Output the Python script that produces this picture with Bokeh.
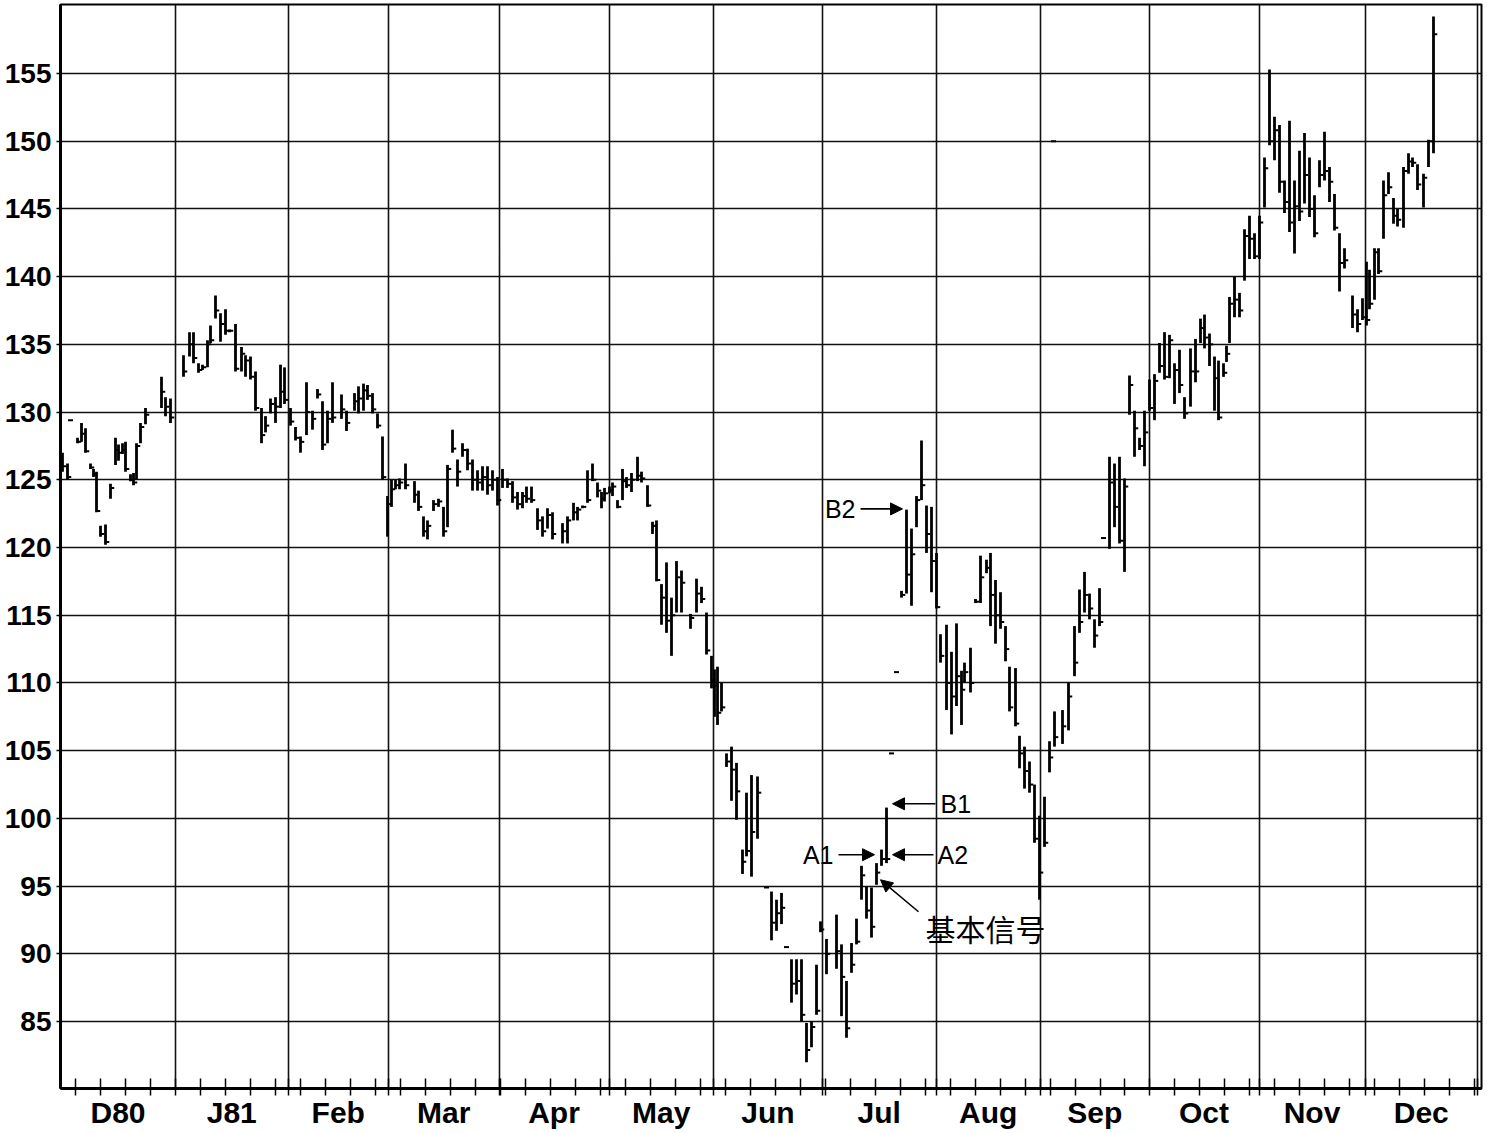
from bokeh.plotting import figure
from bokeh.models import Range1d, FixedTicker, Arrow, NormalHead, Label, ColumnDataSource
from bokeh.embed import file_html
from bokeh.resources import INLINE
import numpy as np

# ---------------- data (x = trading-day index, y = price) ----------------
month_labels = ["D80", "J81", "Feb", "Mar", "Apr", "May", "Jun", "Jul", "Aug", "Sep", "Oct", "Nov", "Dec"]
month_bounds = [23.0, 45.5, 65.6, 87.7, 109.7, 130.6, 152.4, 175.1, 196.0, 217.7, 239.7, 260.9, 283.4]
price_ticks = [85, 90, 95, 100, 105, 110, 115, 120, 125, 130, 135, 140, 145, 150, 155]

day = [
    0.4, 1.4, 3.4, 4.2, 5.0, 6.0, 6.6, 7.2, 8.0, 9.0, 10.0, 11.0, 11.6, 12.4, 13.0, 14.0, 14.6, 15.2, 16.0, 17.0, 20.2, 21.0, 22.0,
    24.6, 25.8, 26.6, 27.6, 28.4, 29.4, 30.0, 31.0, 32.0, 33.0, 33.8, 35.0, 36.2, 37.0, 38.0, 39.0, 40.2, 41.0, 42.0, 43.0, 44.0, 44.8,
    46.0, 47.0, 48.0, 49.2, 50.4, 51.4, 52.4, 53.4, 54.4, 56.2, 57.2, 58.8, 59.6, 60.6, 61.4, 62.4, 63.4, 64.4,
    65.4, 66.2, 67.0, 67.8, 69.0, 70.8, 71.6, 72.6, 73.4, 74.6, 75.6, 76.6, 77.4, 78.4, 79.4, 80.4, 81.4, 82.4, 83.4, 84.4, 85.4, 86.4, 87.4,
    88.4, 89.4, 90.4, 91.4, 92.4, 93.2, 94.2, 95.4, 96.4, 97.4, 98.4, 100.4, 101.4, 102.6, 103.4, 104.4, 105.4, 106.4, 107.4, 108.2, 108.8,
    109.8, 110.4, 111.4, 112.4, 113.2, 114.2, 115.4, 116.2, 117.4, 118.4, 119.2, 120.2, 121.2, 122.2, 123.2, 124.2, 126.0, 127.2, 128.2, 129.2,
    130.2, 130.8, 131.4, 132.2, 133.2, 134.2, 135.2, 136.4, 137.2, 138.2, 139.4, 142.2, 143.2, 144.2, 146.2, 147.2, 148.2, 149.2, 150.2, 151.2,
    152.0, 153.2, 155.2, 156.2, 157.2, 158.2, 159.2, 160.2, 161.2, 162.2, 163.2, 164.2, 165.2, 168.2, 169.2, 170.2, 171.2, 172.2, 173.2, 174.2, 175.2,
    176.0, 177.2, 178.2, 179.2, 180.2, 180.8, 182.0, 183.0, 184.0, 185.2, 186.0, 187.0, 188.0, 189.0, 189.8, 191.0, 191.8, 192.8, 193.8, 194.8, 195.8,
    196.8, 197.8, 198.8, 200.4, 201.6, 202.8, 203.8, 204.8, 205.8, 206.8, 207.8, 209.8, 210.8, 211.8, 212.8, 213.8, 214.8, 215.8, 216.8,
    217.8, 218.8, 219.8, 220.8, 221.8, 222.8, 223.8, 224.8, 226.0, 227.0, 228.0, 228.8, 229.8, 230.8, 231.6, 232.6, 233.2, 233.8, 234.8, 235.8, 236.8, 237.8, 238.8,
    239.8, 240.8, 241.8, 242.8, 243.8, 244.8, 245.8, 246.8, 247.8, 248.8, 249.8, 250.8, 251.8, 252.8, 253.8, 254.8, 255.8, 256.8, 258.4, 259.4, 260.4,
    261.2, 261.8, 262.8, 263.6, 264.6, 265.6, 266.6, 267.4, 268.6, 269.6, 270.4, 271.4, 272.6, 273.6, 274.6,
]
high = [
    127.0, 126.2, 128.1, 129.2, 128.8, 126.2, 125.8, 125.6, 121.6, 121.7, 124.7, 128.1, 127.6, 127.7, 127.8, 125.4, 125.5, 127.7, 129.2, 130.3, 132.6, 131.1, 131.0,
    134.2, 135.9, 135.9, 133.6, 133.5, 135.3, 136.4, 138.6, 137.3, 137.6, 136.1, 136.5, 134.8, 134.2, 134.1, 133.0, 130.3, 129.7, 131.0, 131.1, 133.5, 133.3,
    130.3, 128.9, 128.2, 132.2, 130.1, 131.7, 130.8, 130.1, 132.2, 131.3, 130.1, 131.4, 131.9, 132.1, 132.0, 131.4, 129.9, 128.2,
    123.8, 125.0, 125.0, 125.1, 126.2, 124.9, 124.2, 122.3, 122.0, 123.5, 123.6, 123.0, 126.1, 128.7, 126.5, 127.7, 127.3, 126.5, 125.7, 126.0, 126.0, 125.7, 125.2,
    125.8, 125.1, 124.9, 124.1, 124.1, 124.5, 124.5, 122.9, 122.3, 122.9, 122.6, 121.8, 122.3, 123.3, 123.0, 123.1, 125.7, 126.2, 124.8, 124.1, 124.4,
    124.5, 124.8, 123.5, 125.8, 125.2, 125.5, 126.7, 125.6, 124.6, 121.9, 122.0, 117.3, 118.9, 116.3, 119.0, 118.3, 115.1, 117.7, 117.1, 115.2,
    112.0, 111.0, 111.2, 110.0, 104.8, 105.3, 104.1, 97.7, 101.9, 103.2, 103.1, 94.6, 94.0, 94.5, 89.6, 89.6, 89.6, 84.9, 85.0, 89.2,
    92.4, 91.1, 92.9, 90.7, 88.0, 90.8, 92.6, 96.5, 95.0, 94.9, 96.7, 97.7, 100.8, 116.8, 122.8, 121.4, 123.8, 127.9, 123.1, 123.0, 119.6,
    113.6, 114.3, 112.3, 114.4, 110.9, 111.5, 112.6, 116.2, 119.4, 119.1, 119.6, 117.6, 116.7, 114.2, 111.2, 111.1, 106.1, 105.3, 104.2, 102.5, 100.2,
    101.6, 105.7, 107.9, 108.0, 110.0, 114.2, 116.9, 118.2, 116.6, 114.7, 117.0, 126.7, 126.2, 126.7, 125.1, 132.7, 130.1, 128.1, 130.1,
    132.4, 132.8, 135.1, 135.9, 135.7, 133.6, 134.6, 131.1, 134.7, 135.4, 136.9, 137.2, 135.8, 134.1, 133.8, 133.6, 134.9, 138.5, 140.0, 138.8, 143.5, 144.5, 143.2,
    144.5, 148.8, 155.3, 151.8, 151.2, 147.1, 151.5, 147.1, 149.3, 150.6, 148.8, 146.0, 148.6, 150.7, 148.1, 146.1, 143.2, 142.1, 138.6, 137.6, 138.4,
    141.1, 140.5, 142.1, 142.1, 147.1, 147.7, 145.8, 145.0, 148.1, 149.1, 148.8, 148.3, 147.6, 150.1, 159.2,
]
low = [
    125.6, 125.0, 127.7, 127.8, 127.0, 125.8, 125.2, 122.6, 120.8, 120.2, 123.6, 126.1, 126.4, 126.9, 125.6, 124.9, 124.6, 125.0, 127.7, 129.1, 130.3, 129.7, 129.2,
    132.6, 134.1, 133.6, 132.9, 133.1, 133.3, 135.1, 136.9, 135.2, 135.7, 135.9, 133.0, 133.0, 132.6, 132.4, 130.1, 127.7, 128.5, 129.9, 129.2, 130.3, 130.6,
    129.0, 127.9, 127.0, 128.3, 128.7, 131.0, 127.2, 127.7, 129.2, 129.5, 128.6, 130.1, 129.9, 130.1, 130.9, 129.9, 128.8, 125.0,
    120.8, 123.0, 124.3, 124.3, 124.3, 123.3, 122.7, 120.8, 120.6, 122.7, 123.0, 120.8, 121.5, 127.0, 124.5, 126.7, 125.7, 124.2, 124.2, 124.2, 123.9, 124.2, 123.1,
    124.4, 124.4, 123.3, 122.8, 122.9, 123.3, 123.3, 121.3, 120.8, 121.4, 120.6, 120.3, 120.3, 122.0, 122.0, 122.9, 123.3, 124.9, 123.7, 122.9, 123.4,
    124.0, 123.8, 122.9, 123.5, 124.4, 124.1, 124.9, 124.8, 123.0, 121.0, 117.5, 114.3, 113.7, 112.0, 115.2, 115.2, 114.0, 115.2, 115.9, 112.1,
    109.6, 107.5, 106.9, 107.9, 103.8, 101.3, 99.9, 95.9, 97.2, 95.7, 98.5, 91.0, 91.7, 92.2, 86.4, 87.0, 85.0, 82.0, 83.1, 85.5,
    91.6, 88.5, 88.9, 85.4, 83.8, 88.6, 90.7, 94.0, 92.6, 91.2, 95.1, 96.5, 96.7, 116.3, 116.6, 115.7, 121.5, 123.5, 119.6, 116.7, 115.5,
    111.5, 108.0, 106.2, 108.3, 106.9, 110.0, 109.3, 115.9, 115.9, 118.1, 114.2, 112.9, 114.0, 111.6, 107.9, 106.8, 103.7, 102.2, 101.9, 98.2, 94.0,
    97.9, 103.4, 105.3, 105.5, 106.5, 110.5, 113.7, 115.2, 114.7, 112.6, 114.2, 119.9, 121.5, 120.3, 118.2, 129.8, 126.7, 127.2, 126.0,
    130.1, 129.4, 132.9, 132.4, 132.5, 130.6, 131.4, 129.5, 130.4, 132.2, 135.1, 134.7, 133.4, 130.1, 129.4, 132.6, 133.7, 135.1, 137.0, 137.0, 139.7, 141.3, 141.3,
    141.3, 145.1, 149.7, 148.6, 146.2, 144.7, 143.3, 141.7, 144.1, 145.4, 144.4, 142.9, 146.6, 147.1, 145.5, 143.4, 138.9, 140.6, 136.2, 135.9, 136.8,
    136.4, 137.6, 138.3, 140.2, 142.8, 146.1, 143.9, 143.7, 143.6, 147.6, 148.1, 146.4, 145.1, 148.1, 149.1,
]
close = [
    126.0, 125.2, 127.8, 128.4, 127.1, 125.9, 125.4, 122.7, 121.0, 120.4, 124.4, 127.2, 127.0, 127.2, 125.8, 125.0, 124.8, 127.5, 128.9, 129.8, 131.5, 130.4, 129.6,
    133.0, 135.0, 134.0, 133.1, 133.3, 135.0, 135.3, 137.5, 136.5, 136.0, 136.0, 133.2, 134.3, 133.8, 132.6, 130.3, 128.3, 129.0, 130.6, 130.4, 131.5, 130.9,
    129.3, 128.1, 127.8, 130.0, 129.5, 131.3, 127.6, 129.5, 129.6, 130.2, 129.2, 130.8, 131.0, 131.6, 131.2, 130.2, 129.0, 125.2,
    123.2, 124.3, 124.6, 124.8, 124.6, 123.9, 123.0, 121.2, 121.6, 123.2, 123.4, 121.2, 125.8, 127.3, 125.6, 127.2, 126.2, 125.0, 124.8, 125.2, 124.6, 125.0, 123.5,
    125.0, 124.7, 123.7, 123.2, 123.8, 123.6, 123.5, 122.0, 121.2, 122.4, 121.0, 121.2, 122.0, 122.6, 122.8, 123.0, 123.5, 125.0, 124.2, 123.6, 124.0,
    124.2, 124.5, 123.0, 124.9, 124.6, 125.0, 125.3, 125.1, 123.1, 121.6, 117.6, 116.3, 114.6, 115.0, 117.8, 117.4, 114.8, 116.6, 116.2, 112.4,
    110.2, 109.8, 107.8, 108.2, 104.2, 103.6, 102.0, 96.8, 97.6, 99.0, 101.9, 92.3, 93.0, 93.4, 87.8, 88.0, 85.5, 82.9, 84.6, 85.8,
    91.8, 90.0, 90.2, 88.3, 84.5, 89.2, 90.9, 95.8, 93.2, 92.0, 96.0, 97.0, 97.0, 116.5, 118.0, 119.5, 123.5, 124.6, 121.0, 119.0, 115.6,
    112.0, 110.0, 109.0, 110.5, 109.5, 110.8, 110.0, 116.0, 117.8, 118.5, 116.5, 115.0, 114.5, 112.5, 108.2, 107.0, 104.8, 103.5, 102.5, 98.5, 96.0,
    98.2, 104.5, 106.0, 106.8, 109.0, 111.5, 114.5, 116.5, 115.5, 113.5, 114.5, 124.8, 123.0, 120.5, 124.5, 132.0, 128.8, 127.5, 128.5,
    130.3, 132.3, 133.4, 132.6, 135.3, 133.1, 132.0, 129.9, 133.0, 133.0, 136.2, 135.5, 135.0, 132.5, 129.6, 132.9, 134.3, 138.0, 138.3, 137.5, 143.0, 142.8, 141.5,
    144.0, 148.0, 150.0, 150.8, 147.0, 145.5, 144.0, 145.2, 144.8, 147.5, 145.0, 143.2, 147.5, 147.8, 147.0, 143.6, 141.0, 141.2, 137.2, 136.5, 137.0,
    136.8, 138.0, 141.8, 140.4, 146.0, 146.6, 144.5, 144.2, 147.8, 148.5, 148.4, 146.8, 147.3, 150.0, 157.9,
]

# isolated single-price marks
dash_day = [2.0, 141.2, 145.2, 166.2, 167.2, 198.6, 208.6]
dash_price = [129.4, 94.9, 90.5, 104.8, 110.8, 150.0, 120.7]

# ---------------- figure ----------------
n = min(len(day), len(high), len(low), len(close))
d = np.array(day[:n])
src = ColumnDataSource(dict(day=d, high=high[:n], low=low[:n], close=close[:n], tick_end=d + 0.75))

p = figure(width=1484, height=1131, x_range=Range1d(0, 284.2), y_range=Range1d(80.06, 160.09),
           output_backend="svg", toolbar_location=None,
           min_border_left=60, min_border_right=3, min_border_top=4, min_border_bottom=42)
p.background_fill_color = "white"
p.border_fill_color = "white"
p.outline_line_color = "black"
p.outline_line_width = 2

# grid
p.xgrid.ticker = FixedTicker(ticks=month_bounds)
p.ygrid.ticker = FixedTicker(ticks=price_ticks)
for g in (p.xgrid, p.ygrid):
    g.grid_line_color = "#111111"
    g.grid_line_width = 1.6
    g.grid_line_alpha = 1.0

# x axis: month labels at month centres, weekly ticks
starts = [0.0] + month_bounds[:-1]
centers = [round((a + b) / 2, 2) for a, b in zip(starts, month_bounds)]
week_ticks = list(np.round(np.arange(3.06, 283.0, 4.996), 2))
p.xaxis.ticker = FixedTicker(ticks=centers, minor_ticks=week_ticks + month_bounds)
p.xaxis.major_label_overrides = {c: lab for c, lab in zip(centers, month_labels)}
p.xaxis.major_tick_in = 0
p.xaxis.major_tick_out = 0
p.xaxis.minor_tick_in = 10
p.xaxis.minor_tick_out = 7
p.xaxis.minor_tick_line_width = 1.5
p.xaxis.minor_tick_line_color = "black"
p.xaxis.axis_line_width = 3
p.xaxis.axis_line_color = "black"
p.xaxis.major_label_standoff = 0
p.xaxis.major_label_text_font = "Liberation Sans"
p.xaxis.major_label_text_font_style = "bold"
p.xaxis.major_label_text_font_size = "30px"
p.xaxis.major_label_text_color = "black"

# y axis
p.yaxis.ticker = FixedTicker(ticks=price_ticks)
p.yaxis.major_tick_in = 0
p.yaxis.major_tick_out = 4
p.yaxis.major_tick_line_width = 1.5
p.yaxis.minor_tick_line_color = None
p.yaxis.axis_line_width = 3
p.yaxis.axis_line_color = "black"
p.yaxis.major_label_standoff = 5
p.yaxis.major_label_text_font = "Liberation Sans"
p.yaxis.major_label_text_font_style = "bold"
p.yaxis.major_label_text_font_size = "28px"
p.yaxis.major_label_text_color = "black"

# price bars
p.segment(x0="day", y0="low", x1="day", y1="high", source=src, line_color="black", line_width=2.8)
p.segment(x0="day", y0="close", x1="tick_end", y1="close", source=src, line_color="black", line_width=2)
dd = np.array(dash_day)
p.segment(x0=dd - 0.5, y0=dash_price, x1=dd + 0.5, y1=dash_price, line_color="black", line_width=2)

# annotations
def arrow(x0, y0, x1, y1):
    p.add_layout(Arrow(x_start=x0, y_start=y0, x_end=x1, y_end=y1, line_width=1.6, line_color="black",
                       end=NormalHead(size=12, fill_color="black", line_color="black", line_width=1)))

def label(x, y, text, align, font="Liberation Sans", size="25px"):
    p.add_layout(Label(x=x, y=y, text=text, text_align=align, text_baseline="middle",
                       text_font=font, text_font_size=size, text_color="black"))

arrow(160.0, 122.85, 168.4, 122.85)
label(159.0, 122.85, "B2", "right")
arrow(175.0, 101.08, 166.4, 101.08)
label(176.0, 101.08, "B1", "left")
arrow(155.6, 97.32, 162.8, 97.32)
label(154.6, 97.32, "A1", "right")
arrow(174.6, 97.32, 166.4, 97.32)
label(175.4, 97.32, "A2", "left")
arrow(171.6, 93.11, 164.0, 95.47)
label(173.0, 91.93, "基本信号", "left", font="Noto Sans CJK SC", size="30px")

open("out.html", "w").write(file_html(p, INLINE))
